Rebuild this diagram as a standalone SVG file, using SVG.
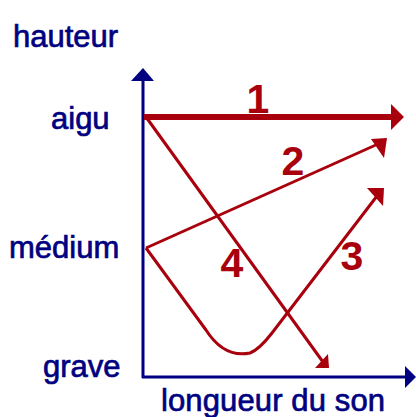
<svg xmlns="http://www.w3.org/2000/svg" width="416" height="417" viewBox="0 0 416 417">
<style>
.lbl{font-family:"Liberation Sans",Arial,sans-serif;font-size:31px;fill:#000080;stroke:#000080;stroke-width:0.7}
.num{font-family:"Liberation Sans",Arial,sans-serif;font-size:41px;font-weight:bold;fill:#A8000C;text-anchor:middle}
.ax{stroke:#000080;stroke-width:3;fill:none}
.axh{fill:#000080}
.rl{stroke:#A8000C;stroke-width:3;fill:none;stroke-linejoin:round}
.rh{fill:#A8000C}
</style>
<rect width="416" height="417" fill="#ffffff"/>
<g id="axes">
<line class="ax" x1="143" y1="76" x2="143" y2="378"/>
<polygon class="axh" points="143,68 154,81 131,81"/>
<line class="ax" x1="142" y1="377" x2="408" y2="377"/>
<polygon class="axh" points="416,377 405,366 405,388"/>
</g>
<g id="labels">
<text class="lbl" x="13" y="47">hauteur</text>
<text class="lbl" x="51" y="129">aigu</text>
<text class="lbl" x="9" y="258">médium</text>
<text class="lbl" x="43" y="377">grave</text>
<text class="lbl" x="161" y="411" textLength="224" lengthAdjust="spacing">longueur du son</text>
</g>
<g id="connectors">
<g id="arrow1">
<line x1="144" y1="117" x2="393" y2="117" stroke="#A8000C" stroke-width="6"/>
<polygon class="rh" points="391,104 404,117 391,130"/>
</g>
<g id="arrow2">
<line class="rl" x1="146" y1="248" x2="378" y2="144"/>
<polygon class="rh" points="387,138 371,139 384,158"/>
</g>
<g id="arrow3">
<path class="rl" d="M146,248 L206,330 C220,352 235,356 250,353 C258,350 265,342 272,333 L377,196"/>
<polygon class="rh" points="384,188 367,188 383,206"/>
</g>
<g id="arrow4">
<line class="rl" x1="146" y1="117" x2="323" y2="362"/>
<polygon class="rh" points="328,354 315,368 329,368"/>
</g>
</g>
<g id="numbers">
<text class="num" x="258" y="113">1</text>
<text class="num" x="293" y="175">2</text>
<text class="num" x="352" y="270">3</text>
<text class="num" x="232" y="277">4</text>
</g>
</svg>
